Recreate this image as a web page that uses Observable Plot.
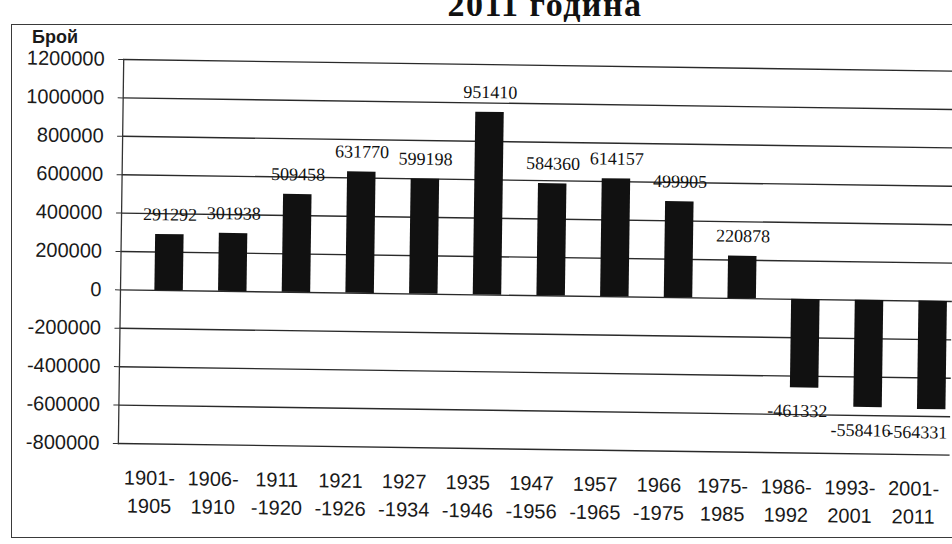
<!DOCTYPE html>
<html>
<head>
<meta charset="utf-8">
<script src="https://cdn.jsdelivr.net/npm/d3@7"></script>
<script src="https://cdn.jsdelivr.net/npm/@observablehq/plot@0.6"></script>
<style>
  html, body { margin: 0; padding: 0; background: #fff; overflow: hidden; }
  #page { position: relative; width: 952px; height: 544px; overflow: hidden; background: #fff; }
  #frame { position: absolute; left: 11px; top: 24px; width: 960px; height: 514px; border: 1.5px solid #3a3a3a; box-sizing: border-box; }
  #title { position: absolute; left: 0; width: 1090px; top: -12.5px; text-align: center; font-family: "Liberation Serif", serif; font-weight: bold; font-size: 34px; line-height: 1; letter-spacing: 1.5px; color: #111; white-space: nowrap; }
  #ylabel { position: absolute; left: 32px; top: 28px; font-family: "Liberation Sans", sans-serif; font-weight: bold; font-size: 18px; line-height: 1; color: #1a1a1a; }
  #chart { position: absolute; left: 0; top: 0; }
</style>
</head>
<body>
<div id="page">
  <div id="frame"></div>
  <div id="title">2011 година</div>
  <div id="ylabel">Брой</div>
  <div id="chart"></div>
</div>
<script>
const periods = ["1901-1905", "1906-1910", "1911-1920", "1921-1926", "1927-1934", "1935-1946", "1947-1956", "1957-1965", "1966-1975", "1975-1985", "1986-1992", "1993-2001", "2001-2011"];
const tickLabels = ["1901-\n1905", "1906-\n1910", "1911\n-1920", "1921\n-1926", "1927\n-1934", "1935\n-1946", "1947\n-1956", "1957\n-1965", "1966\n-1975", "1975-\n1985", "1986-\n1992", "1993-\n2001", "2001-\n2011"];
const values = [291292, 301938, 509458, 631770, 599198, 951410, 584360, 614157, 499905, 220878, -461332, -558416, -564331];
const yTicks = [-800000, -600000, -400000, -200000, 0, 200000, 400000, 600000, 800000, 1000000, 1200000];

const data = periods.map((p, i) => ({period: p, value: values[i]}));
const pos = data.filter(d => d.value >= 0);
const neg = data.filter(d => d.value < 0);
const negMost = neg.slice(0, -1);
const negLast = neg.slice(-1);

const chart = Plot.plot({
  width: 952,
  height: 544,
  marginLeft: 120,
  marginRight: 0,
  marginTop: 59,
  marginBottom: 101,
  style: {fontFamily: "Liberation Sans, sans-serif", fontSize: "20px", color: "#1a1a1a", background: "transparent"},
  x: {domain: periods, paddingInner: 0.553, paddingOuter: 0.309, align: 0.873, round: false, label: null},
  y: {domain: [-800000, 1200000], label: null},
  marks: [
    Plot.gridY(yTicks, {stroke: "#2a2a2a", strokeOpacity: 1, strokeWidth: 1.4}),
    Plot.frame({anchor: "left", stroke: "#333", strokeWidth: 1.3}),
    Plot.axisY(yTicks, {tickSize: 5, tickPadding: 14, fontSize: 20, tickFormat: d => String(d), label: null, stroke: "#333"}),
    Plot.barY(data, {x: "period", y: "value", fill: "#111"}),
    Plot.text(pos, {x: "period", y: "value", text: d => String(d.value), dy: -20, fontFamily: "Liberation Serif, serif", fontSize: 18, fill: "#111"}),
    Plot.text(negMost, {x: "period", y: "value", text: d => String(d.value), dy: 23, dx: -7, fontFamily: "Liberation Serif, serif", fontSize: 18, fill: "#111"}),
    Plot.text(negLast, {x: "period", y: "value", text: d => String(d.value), dy: 23, dx: 16, textAnchor: "end", fontFamily: "Liberation Serif, serif", fontSize: 18, fill: "#111"}),
    Plot.axisX({tickSize: 0, tickPadding: 21, fontSize: 20, lineHeight: 1.4, dx: -17, label: null, tickFormat: d => tickLabels[periods.indexOf(d)]})
  ]
});
chart.style.transformOrigin = "120px 290px";
chart.style.transform = "rotate(0.8deg)";
document.getElementById("chart").appendChild(chart);
</script>
</body>
</html>
